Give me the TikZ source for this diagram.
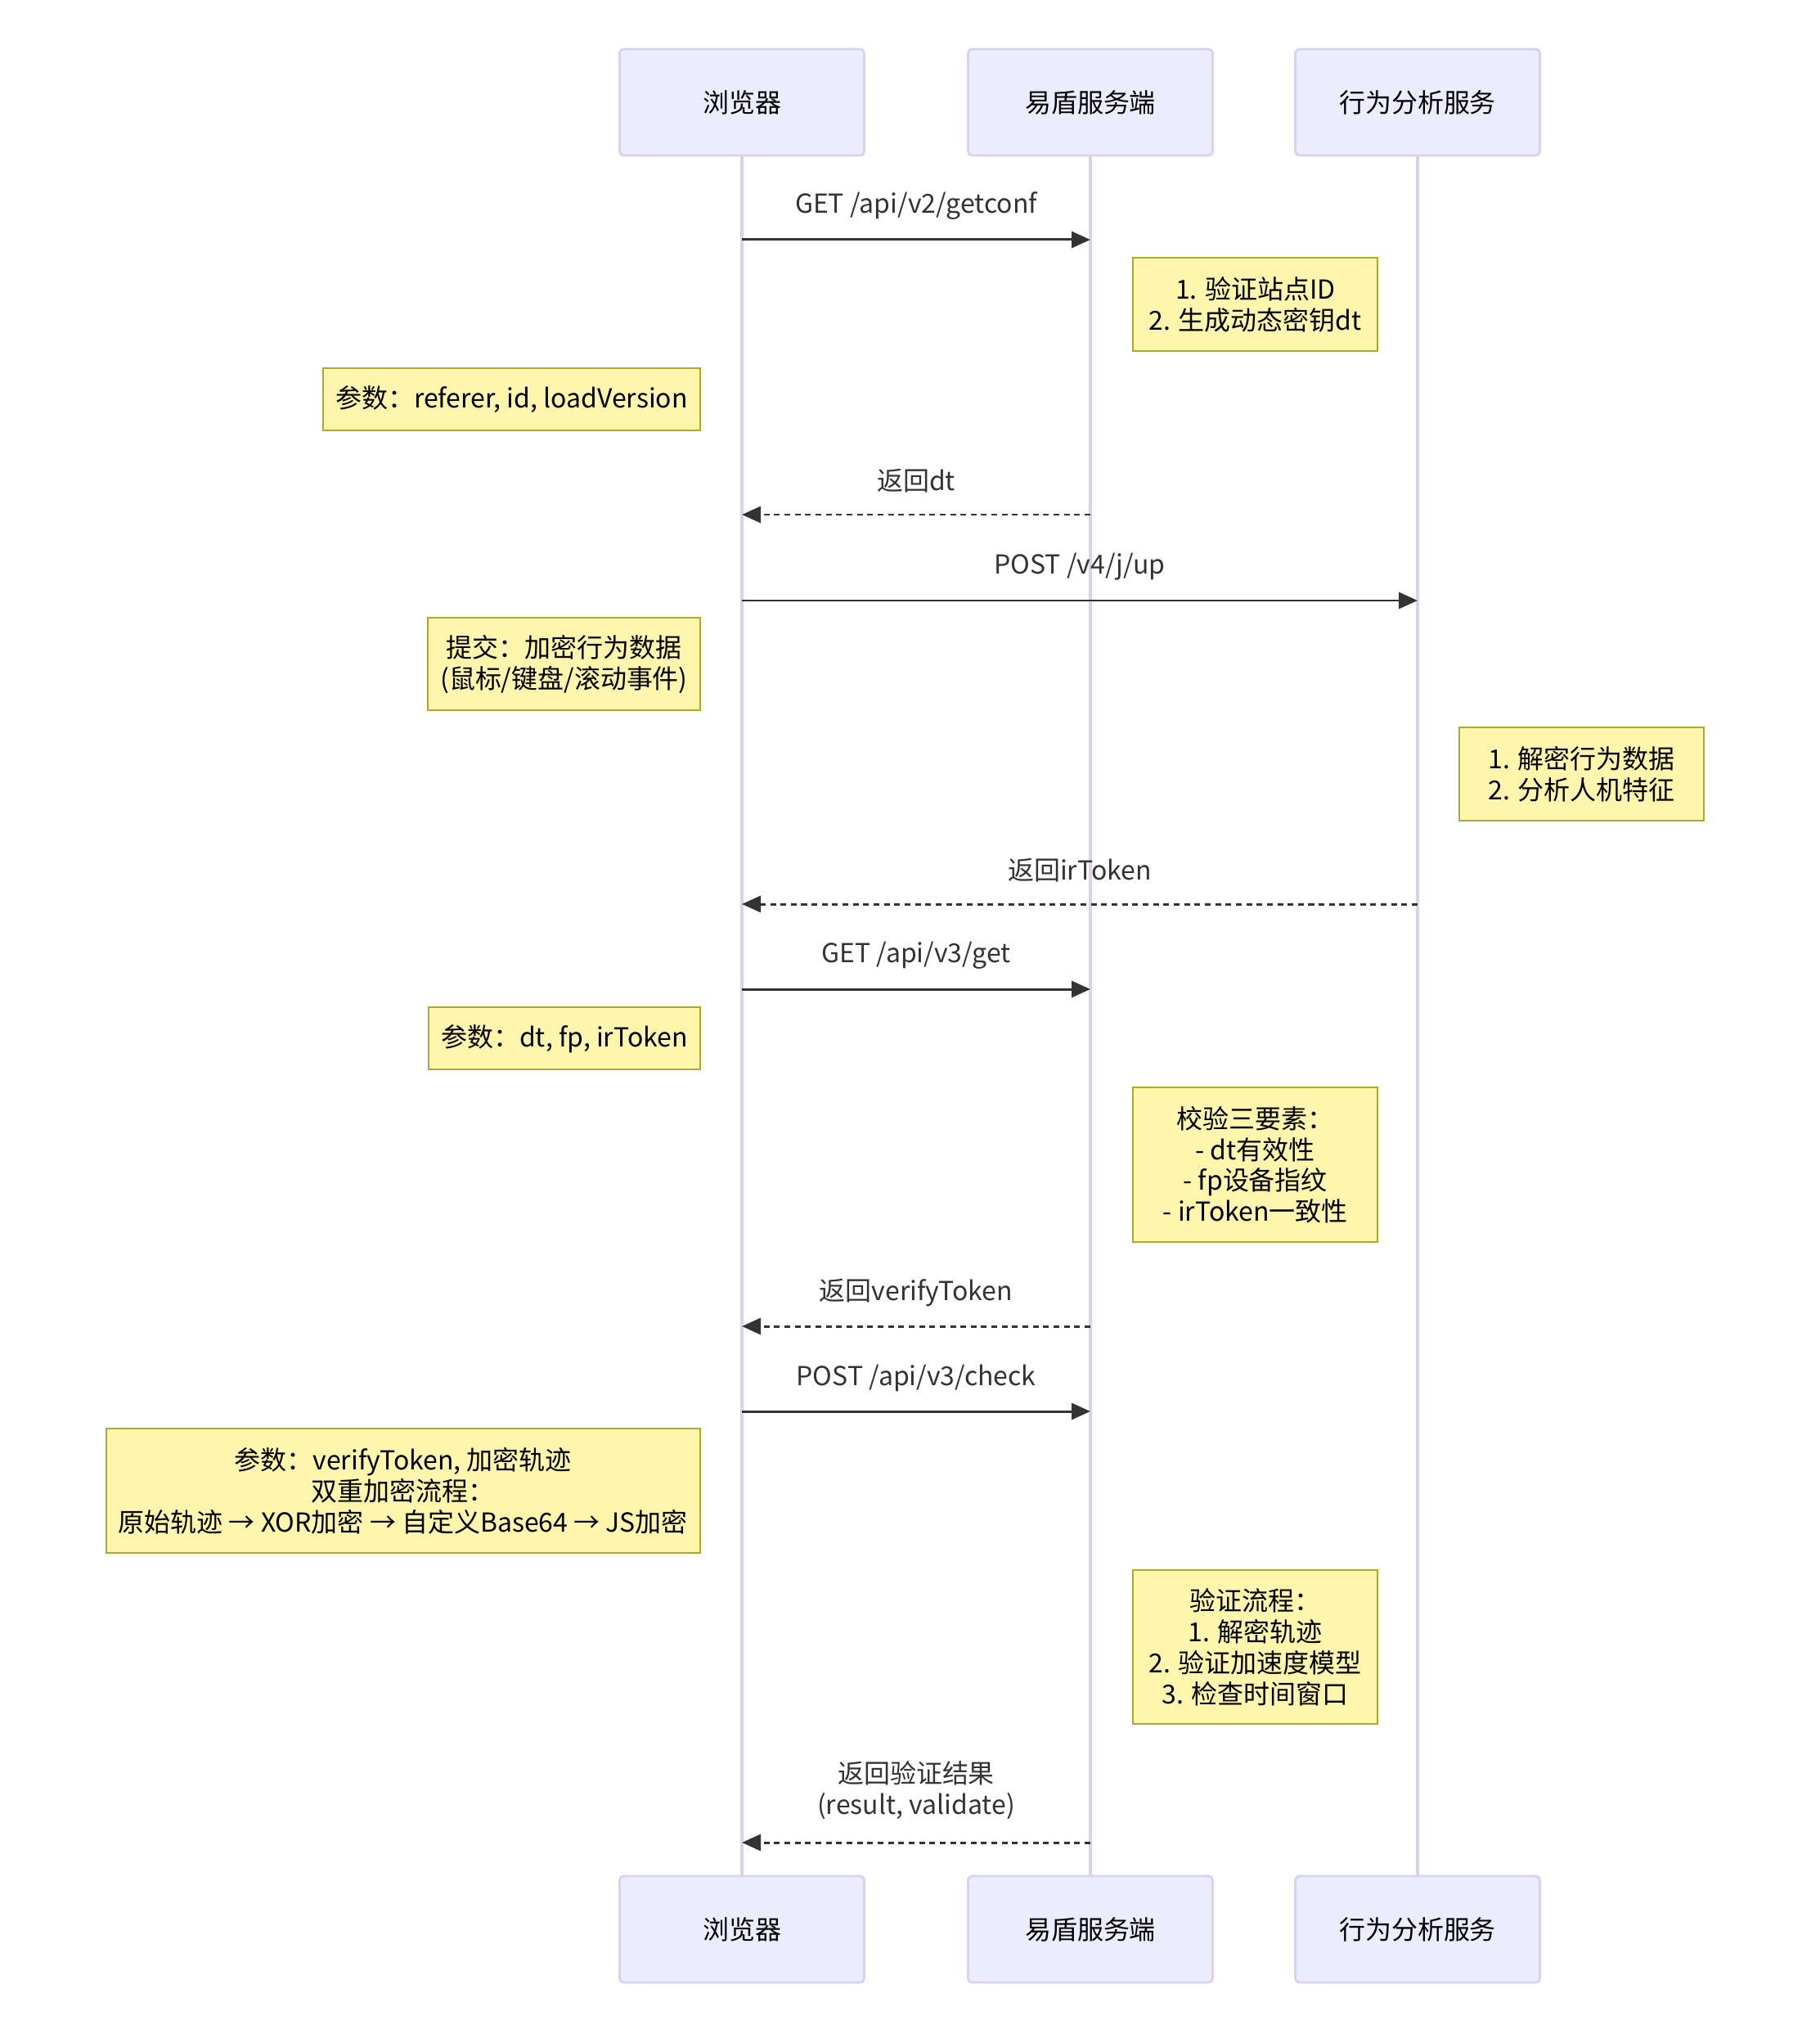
\documentclass[tikz,border=0pt]{standalone}
\usepackage{fontspec}
\setmainfont{Noto Sans CJK SC}
\usetikzlibrary{positioning, arrows.meta}

\definecolor{actorfill}{HTML}{ECECFF}
\definecolor{actorline}{HTML}{D9D0F3}
\definecolor{notefill}{HTML}{FFF5AD}
\definecolor{noteline}{HTML}{AAAA33}
\definecolor{msgcolor}{HTML}{333333}

\tikzset{
	actor/.style={draw=actorline, fill=actorfill, line width=0.8pt, rounded corners=0.05cm,
		minimum width=2.99cm, minimum height=1.3cm},
	lifeline/.style={actorline, line width=0.9pt},
	note/.style={draw=noteline, fill=notefill, line width=0.7pt, align=center,
		inner xsep=0.15cm, inner ysep=0pt},
	rightnote/.style={note, anchor=north west, minimum width=2.99cm},
	leftnote/.style={note, anchor=north east},
	msg/.style={msgcolor, line width=0.85pt, -{Triangle[length=0.23cm, width=0.2cm]}},
	reply/.style={msg, dash pattern=on 2pt off 1.6pt},
	msglabel/.style={text=msgcolor, align=center},
}

\begin{document}
\begin{tikzpicture}[font=\fontsize{9.1pt}{10.8pt}\selectfont]
	\useasboundingbox (0,0) rectangle (22.24,-24.86);
	
	% Participants
	\node[actor] (browser) at (9.07,-1.25) {浏览器};
	\node[actor] (yidun) at (13.33,-1.25) {易盾服务端};
	\node[actor] (behave) at (17.33,-1.25) {行为分析服务};
	\node[actor] (browserB) at (9.07,-23.58) {浏览器};
	\node[actor] (yidunB) at (13.33,-23.58) {易盾服务端};
	\node[actor] (behaveB) at (17.33,-23.58) {行为分析服务};
	
	% Lifelines
	\draw[lifeline] (browser) -- (browserB);
	\draw[lifeline] (yidun) -- (yidunB);
	\draw[lifeline] (behave) -- (behaveB);
	
	% Get config
	\draw[msg] (browser |- 0,-2.93) -- (yidun |- 0,-2.93)
		node[midway, msglabel, yshift=0.41cm] (lblConf) {GET /api/v2/getconf};
	\node[rightnote, minimum height=1.14cm] (noteConf) at ([xshift=0.51cm]yidun |- 0,-3.14)
		{1. 验证站点ID\\2. 生成动态密钥dt};
	\node[leftnote, minimum height=0.76cm] (noteParams) at ([xshift=-0.50cm]browser |- 0,-4.49)
		{参数：referer, id, loadVersion};
	\draw[reply] (yidun |- 0,-6.29) -- (browser |- 0,-6.29)
		node[midway, msglabel, yshift=0.41cm] (lblDt) {返回dt};
	
	% Behaviour data
	\draw[msg] (browser |- 0,-7.34) -- (behave |- 0,-7.34)
		node[midway, msglabel, yshift=0.41cm] (lblUp) {POST /v4/j/up};
	\node[leftnote, minimum height=1.13cm] (noteSubmit) at ([xshift=-0.50cm]browser |- 0,-7.54)
		{提交：加密行为数据\\(鼠标/键盘/滚动事件)};
	\node[rightnote, minimum height=1.14cm] (noteAnalyse) at ([xshift=0.50cm]behave |- 0,-8.88)
		{1. 解密行为数据\\2. 分析人机特征};
	\draw[reply] (behave |- 0,-11.05) -- (browser |- 0,-11.05)
		node[midway, msglabel, yshift=0.41cm] (lblIr) {返回irToken};
	
	% Get verifyToken
	\draw[msg] (browser |- 0,-12.09) -- (yidun |- 0,-12.09)
		node[midway, msglabel, yshift=0.41cm] (lblGet) {GET /api/v3/get};
	\node[leftnote, minimum height=0.76cm] (noteGet) at ([xshift=-0.50cm]browser |- 0,-12.30)
		{参数：dt, fp, irToken};
	\node[rightnote, minimum height=1.89cm] (noteCheck) at ([xshift=0.51cm]yidun |- 0,-13.28)
		{校验三要素：\\- dt有效性\\- fp设备指纹\\- irToken一致性};
	\draw[reply] (yidun |- 0,-16.21) -- (browser |- 0,-16.21)
		node[midway, msglabel, yshift=0.41cm] (lblVt) {返回verifyToken};
	
	% Check
	\draw[msg] (browser |- 0,-17.25) -- (yidun |- 0,-17.25)
		node[midway, msglabel, yshift=0.41cm] (lblCheck) {POST /api/v3/check};
	\node[leftnote, minimum height=1.52cm] (noteTrack) at ([xshift=-0.50cm]browser |- 0,-17.45)
		{参数：verifyToken, 加密轨迹\\双重加密流程：\\原始轨迹 → XOR加密 → 自定义Base64 → JS加密};
	\node[rightnote, minimum height=1.88cm] (noteVerify) at ([xshift=0.51cm]yidun |- 0,-19.18)
		{验证流程：\\1. 解密轨迹\\2. 验证加速度模型\\3. 检查时间窗口};
	\draw[reply] (yidun |- 0,-22.52) -- (browser |- 0,-22.52)
		node[midway, msglabel, yshift=0.64cm] (lblResult) {返回验证结果\\(result, validate)};
	
\end{tikzpicture}
\end{document}
